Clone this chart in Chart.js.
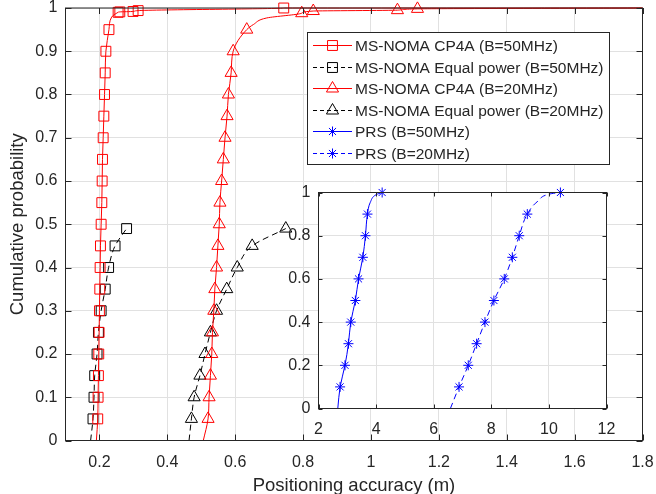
<!DOCTYPE html>
<html>
<head>
<meta charset="utf-8">
<script src="https://cdn.jsdelivr.net/npm/chart.js@4.4.0/dist/chart.umd.min.js"></script>
<style>
  html, body { margin: 0; padding: 0; background: #fff; }
  #wrap { position: relative; width: 656px; height: 494px; }
  #main { position: absolute; left: 0; top: 0; }
  #inset { position: absolute; left: 260px; top: 180px; }
</style>
</head>
<body>
<div id="wrap">
  <canvas id="main" width="656" height="494"></canvas>
  <canvas id="inset" width="370" height="262"></canvas>
</div>
<script>
// CDF of positioning error, MS-NOMA schemes (main axes)
const cp4a_50_x = [0.191, 0.195, 0.196, 0.197, 0.198, 0.199, 0.200, 0.201, 0.202, 0.203, 0.205, 0.207, 0.208, 0.209, 0.211, 0.213, 0.215, 0.217, 0.219, 0.228, 0.236, 0.255, 0.260, 0.299, 0.314, 0.743, 1.8];
const cp4a_50_y = [0, 0.05, 0.1, 0.15, 0.2, 0.25, 0.3, 0.35, 0.4, 0.45, 0.5, 0.55, 0.6, 0.65, 0.7, 0.75, 0.8, 0.85, 0.9, 0.95, 0.979, 0.99, 0.991, 0.992, 0.994, 1, 1];
const cp4a_50_plain = [0, 20, 26];

const equal_50_x = [0.174, 0.181, 0.184, 0.186, 0.193, 0.197, 0.205, 0.217, 0.227, 0.246, 0.280];
const equal_50_y = [0, 0.05, 0.1, 0.15, 0.2, 0.25, 0.3, 0.35, 0.4, 0.45, 0.49];
const equal_50_plain = [0];

const cp4a_20_x = [0.506, 0.520, 0.523, 0.527, 0.531, 0.533, 0.537, 0.540, 0.545, 0.549, 0.553, 0.555, 0.560, 0.565, 0.570, 0.576, 0.580, 0.588, 0.594, 0.634, 0.654, 0.693, 0.796, 0.830, 1.078, 1.137, 1.8];
const cp4a_20_y = [0, 0.05, 0.1, 0.15, 0.2, 0.25, 0.3, 0.35, 0.4, 0.45, 0.5, 0.55, 0.6, 0.65, 0.7, 0.75, 0.8, 0.85, 0.9, 0.95, 0.962, 0.977, 0.988, 0.993, 0.995, 0.998, 1];
const cp4a_20_plain = [0, 20, 21, 26];

const equal_20_x = [0.464, 0.471, 0.479, 0.496, 0.511, 0.527, 0.545, 0.575, 0.606, 0.650, 0.749];
const equal_20_y = [0, 0.05, 0.1, 0.15, 0.2, 0.25, 0.3, 0.35, 0.4, 0.45, 0.49];
const equal_20_plain = [0];

// PRS baseline (inset axes)
const prs_50_x = [2.67, 2.75, 2.92, 3.04, 3.12, 3.28, 3.39, 3.54, 3.63, 3.70, 3.80, 4.00, 4.21];
const prs_50_y = [0, 0.1, 0.2, 0.3, 0.4, 0.5, 0.6, 0.7, 0.8, 0.9, 0.955, 0.99, 1];
const prs_50_plain = [0, 10, 11];

const prs_20_x = [6.58, 6.88, 7.20, 7.49, 7.78, 8.09, 8.45, 8.73, 8.97, 9.25, 9.62, 10.10, 10.40];
const prs_20_y = [0, 0.1, 0.2, 0.3, 0.4, 0.5, 0.6, 0.7, 0.8, 0.9, 0.96, 0.995, 1];
const prs_20_plain = [0, 10, 11];

const main_x_ticks = [0.2, 0.4, 0.6, 0.8, 1, 1.2, 1.4, 1.6, 1.8];
const main_y_ticks = [0, 0.1, 0.2, 0.3, 0.4, 0.5, 0.6, 0.7, 0.8, 0.9, 1];
const inset_x_ticks = [2, 4, 6, 8, 10, 12];
const inset_y_ticks = [0, 0.2, 0.4, 0.6, 0.8, 1];

const labels = [
  'MS-NOMA CP4A (B=50MHz)',
  'MS-NOMA Equal power (B=50MHz)',
  'MS-NOMA CP4A (B=20MHz)',
  'MS-NOMA Equal power (B=20MHz)',
  'PRS (B=50MHz)',
  'PRS (B=20MHz)'
];

const FONT = '"Liberation Sans", Arial, Helvetica, sans-serif';
const TEXT_COLOR = '#262626';
const GRID_COLOR = '#e1e1e1';
const RED = '#ff0000', BLACK = '#000000', BLUE = '#0000ff';
const DASH = [6, 4];

const styles = [
  {color: RED, dash: [], marker: 'rect', radius: 7},
  {color: BLACK, dash: DASH, marker: 'rect', radius: 7},
  {color: RED, dash: [], marker: 'triangle', radius: 7},
  {color: BLACK, dash: DASH, marker: 'triangle', radius: 7},
  {color: BLUE, dash: [], marker: 'star', radius: 5},
  {color: BLUE, dash: DASH, marker: 'star', radius: 5}
];

function zip(xs, ys) {
  return xs.map((x, i) => ({x: x, y: ys[i]}));
}

// points listed in `plain` only shape the curve, no marker there
function make_dataset(i, xs, ys, plain) {
  const s = styles[i];
  return {
    label: labels[i],
    data: zip(xs, ys),
    indexAxis: 'y',
    borderColor: s.color,
    backgroundColor: 'rgba(0,0,0,0)',
    borderWidth: 1,
    borderDash: s.dash,
    cubicInterpolationMode: 'monotone',
    pointStyle: s.marker,
    pointRadius: c => plain.includes(c.dataIndex) ? 0 : s.radius,
    pointBorderColor: s.color,
    pointBackgroundColor: 'rgba(0,0,0,0)',
    pointBorderWidth: 1,
    fill: false,
    clip: false
  };
}

function tick_label(v) {
  return String(+v.toFixed(2));
}

function fixed_ticks(values) {
  return axis => { axis.ticks = values.map(v => ({value: v})); };
}

// stop the layout from reserving room for overhanging tick labels
function no_overhang(s) {
  s.paddingTop = 0;
  s.paddingBottom = 0;
  s.paddingLeft = 0;
  s.paddingRight = 0;
}

// box round the axes with inward ticks on all four sides
function frame_plugin(tick_len) {
  return {
    id: 'frame',
    afterDatasetsDraw(chart) {
      const {ctx, chartArea: a} = chart;
      const x = chart.scales.x, y = chart.scales.y;
      ctx.save();
      ctx.strokeStyle = TEXT_COLOR;
      ctx.lineWidth = 1;
      ctx.setLineDash([]);
      ctx.strokeRect(a.left, a.top, a.right - a.left, a.bottom - a.top);
      ctx.beginPath();
      x.ticks.forEach(t => {
        const px = Math.round(x.getPixelForValue(t.value)) + 0.5;
        ctx.moveTo(px, a.bottom); ctx.lineTo(px, a.bottom - tick_len);
        ctx.moveTo(px, a.top); ctx.lineTo(px, a.top + tick_len);
      });
      y.ticks.forEach(t => {
        const py = Math.round(y.getPixelForValue(t.value)) + 0.5;
        ctx.moveTo(a.left, py); ctx.lineTo(a.left + tick_len, py);
        ctx.moveTo(a.right, py); ctx.lineTo(a.right - tick_len, py);
      });
      ctx.stroke();
      ctx.restore();
    }
  };
}

const white_area = {
  id: 'whiteArea',
  beforeDraw(chart) {
    const {ctx, chartArea: a} = chart;
    ctx.save();
    ctx.fillStyle = '#ffffff';
    ctx.fillRect(a.left, a.top, a.right - a.left, a.bottom - a.top);
    ctx.restore();
  }
};

function draw_marker(ctx, style, r, x, y) {
  ctx.beginPath();
  if (style === 'rect') {
    const h = r * Math.SQRT1_2;
    ctx.rect(x - h, y - h, 2 * h, 2 * h);
  } else if (style === 'triangle') {
    ctx.moveTo(x, y - r);
    ctx.lineTo(x + r * Math.sin(Math.PI / 3), y + r / 2);
    ctx.lineTo(x - r * Math.sin(Math.PI / 3), y + r / 2);
    ctx.closePath();
  } else if (style === 'star') {
    const d = r * Math.SQRT1_2;
    ctx.moveTo(x - r, y); ctx.lineTo(x + r, y);
    ctx.moveTo(x, y - r); ctx.lineTo(x, y + r);
    ctx.moveTo(x - d, y - d); ctx.lineTo(x + d, y + d);
    ctx.moveTo(x - d, y + d); ctx.lineTo(x + d, y - d);
  }
  ctx.stroke();
}

const box_legend = {
  id: 'boxLegend',
  afterDraw(chart) {
    const ctx = chart.ctx;
    const left = 307.5, top = 32.5, w = 302, h = 132;
    ctx.save();
    ctx.fillStyle = '#ffffff';
    ctx.fillRect(left, top, w, h);
    ctx.strokeStyle = TEXT_COLOR;
    ctx.lineWidth = 1;
    ctx.strokeRect(left, top, w, h);
    ctx.font = '15.5px ' + FONT;
    ctx.textBaseline = 'middle';
    ctx.textAlign = 'left';
    labels.forEach((label, i) => {
      const s = styles[i];
      const cy = Math.round(45.3 + i * 21.45) + 0.5;
      ctx.strokeStyle = s.color;
      ctx.setLineDash(s.dash.length ? [4, 3] : []);
      ctx.beginPath();
      ctx.moveTo(313, cy);
      ctx.lineTo(352, cy);
      ctx.stroke();
      ctx.setLineDash([]);
      draw_marker(ctx, s.marker, s.radius, 332.5, cy);
      ctx.fillStyle = TEXT_COLOR;
      ctx.fillText(label, 355, cy + 1);
    });
    ctx.restore();
  }
};

function axis_opts(min, max, ticks, tick_pad, extra) {
  return Object.assign({
    type: 'linear',
    min: min,
    max: max,
    afterBuildTicks: fixed_ticks(ticks),
    grid: {color: GRID_COLOR, lineWidth: 1, drawTicks: false},
    border: {display: false},
    ticks: {
      autoSkip: false,
      maxRotation: 0,
      padding: tick_pad,
      color: TEXT_COLOR,
      font: {family: FONT, size: 16},
      callback: tick_label
    }
  }, extra);
}

const title_font = {family: FONT, size: 18.5, lineHeight: 0.92};

const main_chart = new Chart(document.getElementById('main'), {
  type: 'line',
  data: {
    datasets: [
      make_dataset(0, cp4a_50_x, cp4a_50_y, cp4a_50_plain),
      make_dataset(1, equal_50_x, equal_50_y, equal_50_plain),
      make_dataset(2, cp4a_20_x, cp4a_20_y, cp4a_20_plain),
      make_dataset(3, equal_20_x, equal_20_y, equal_20_plain)
    ]
  },
  options: {
    responsive: false,
    animation: false,
    events: [],
    devicePixelRatio: 1,
    layout: {padding: {top: 7.5, right: 13.5, left: 0, bottom: 0}},
    plugins: {legend: {display: false}, tooltip: {enabled: false}},
    scales: {
      x: axis_opts(0.1, 1.8, main_x_ticks, 12, {
        afterFit: s => { s.height = 53.5; no_overhang(s); },
        title: {display: true, text: 'Positioning accuracy (m)', color: TEXT_COLOR,
                font: title_font, padding: {top: 0, bottom: 0}}
      }),
      y: axis_opts(0, 1, main_y_ticks, 8, {
        afterFit: s => { s.width = 65.5; no_overhang(s); },
        title: {display: true, text: 'Cumulative probability', color: TEXT_COLOR,
                font: title_font, padding: {top: 9, bottom: 0}}
      })
    }
  },
  plugins: [frame_plugin(6), box_legend]
});

const inset_chart = new Chart(document.getElementById('inset'), {
  type: 'line',
  data: {
    datasets: [
      make_dataset(4, prs_50_x, prs_50_y, prs_50_plain),
      make_dataset(5, prs_20_x, prs_20_y, prs_20_plain)
    ]
  },
  options: {
    responsive: false,
    animation: false,
    events: [],
    devicePixelRatio: 1,
    layout: {padding: {top: 12.5, right: 23.5, left: 0, bottom: 0}},
    plugins: {legend: {display: false}, tooltip: {enabled: false}},
    scales: {
      x: axis_opts(2, 12, inset_x_ticks, 11, {afterFit: s => { s.height = 33.5; no_overhang(s); }}),
      y: axis_opts(0, 1, inset_y_ticks, 8, {afterFit: s => { s.width = 58.5; no_overhang(s); }})
    }
  },
  plugins: [white_area, frame_plugin(4)]
});
</script>
</body>
</html>
